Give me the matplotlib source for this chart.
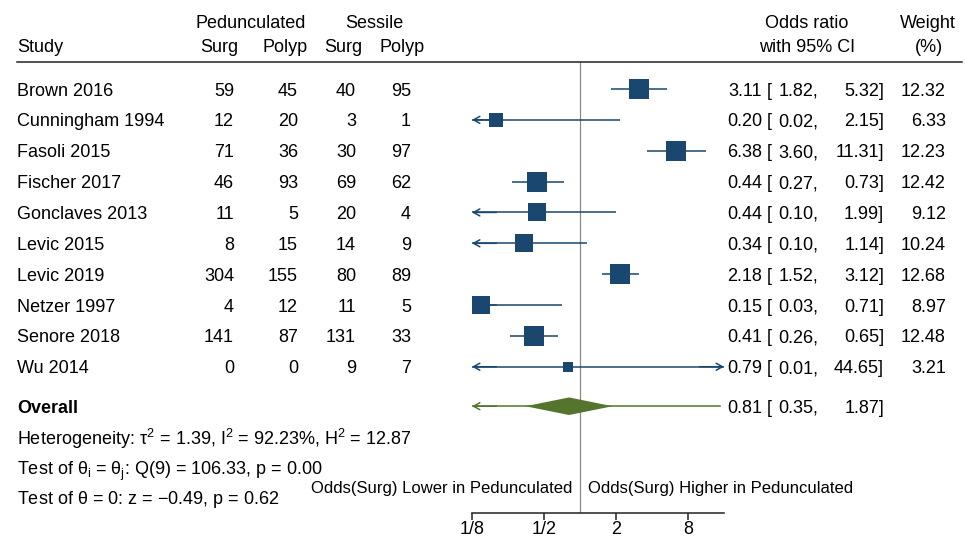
import matplotlib
matplotlib.use('Agg')
import matplotlib.pyplot as plt
import matplotlib.transforms as mtransforms
from matplotlib.lines import Line2D
import numpy as np

# === Data ===
studies = ['Brown 2016', 'Cunningham 1994', 'Fasoli 2015', 'Fischer 2017', 'Gonclaves 2013',
           'Levic 2015', 'Levic 2019', 'Netzer 1997', 'Senore 2018', 'Wu 2014']
ped_surg = [59, 12, 71, 46, 11, 8, 304, 4, 141, 0]
ped_polyp = [45, 20, 36, 93, 5, 15, 155, 12, 87, 0]
ses_surg = [40, 3, 30, 69, 20, 14, 80, 11, 131, 9]
ses_polyp = [95, 1, 97, 62, 4, 9, 89, 5, 33, 7]
odds = [3.11, 0.20, 6.38, 0.44, 0.44, 0.34, 2.18, 0.15, 0.41, 0.79]
ci_lo = [1.82, 0.02, 3.60, 0.27, 0.10, 0.10, 1.52, 0.03, 0.26, 0.01]
ci_hi = [5.32, 2.15, 11.31, 0.73, 1.99, 1.14, 3.12, 0.71, 0.65, 44.65]
weights = [12.32, 6.33, 12.23, 12.42, 9.12, 10.24, 12.68, 8.97, 12.48, 3.21]
overall = [0.81, 0.35, 1.87]
pred_int = [0.045, 14.8]
xticks = [1/8, 1/2, 2, 8]
xtick_labels = ['1/8', '1/2', '2', '8']

# === Style ===
plt.rcParams['font.family'] = ['Liberation Sans', 'DejaVu Sans']
plt.rcParams['mathtext.fontset'] = 'custom'
plt.rcParams['mathtext.rm'] = 'Liberation Sans'
plt.rcParams['mathtext.it'] = 'Liberation Sans'
plt.rcParams['mathtext.bf'] = 'Liberation Sans:bold'
NAVY = '#1a476f'
GREEN = '#55752f'
FS = 13

W, H = 966, 539
fig = plt.figure(figsize=(W / 100, H / 100), dpi=100)
ax = fig.add_axes([472 / W, 1 - 513 / H, (724 - 472) / W, (513 - 62) / H])
ax.set_xscale('log', base=2)
XMIN, XMAX = 1 / 8, 16
ax.set_xlim(XMIN, XMAX)
ax.set_ylim(13.74, -0.875)

rows = np.arange(len(studies))
y_overall = 10.28

# === Reference line at OR = 1 ===
ax.axvline(1, color='#8a8a8a', lw=0.9, zorder=1)

# === Study CIs and squares ===
ARROW = '->,head_length=0.45,head_width=0.25'

def ci_line(lo, hi, y, color):
    left = max(lo, XMIN)
    right = min(hi, XMAX)
    ax.plot([left, right], [y, y], color=color, lw=1.1, solid_capstyle='butt', zorder=2)
    arrow = dict(arrowstyle=ARROW, color=color, lw=1.1, shrinkA=0, shrinkB=0)
    if lo < XMIN:
        ax.annotate('', xy=(XMIN, y), xytext=(XMIN * 1.6, y), arrowprops=arrow, zorder=2)
    if hi > XMAX:
        ax.annotate('', xy=(XMAX, y), xytext=(XMAX / 1.6, y), arrowprops=arrow, zorder=2)

for i in rows:
    ci_line(ci_lo[i], ci_hi[i], i, NAVY)
    ms = 14.4 * np.sqrt(weights[i] / 12.32)
    ax.plot(odds[i], i, marker='s', ms=ms, color=NAVY, mec=NAVY, mew=0, zorder=3)

# === Overall: prediction interval + diamond ===
ax.plot([XMIN, pred_int[1]], [y_overall, y_overall], color=GREEN, lw=1.1, zorder=2)
ax.annotate('', xy=(XMIN, y_overall), xytext=(XMIN * 1.6, y_overall),
            arrowprops=dict(arrowstyle=ARROW, color=GREEN, lw=1.1, shrinkA=0, shrinkB=0),
            zorder=2)
hh = 0.285
ax.fill([overall[1], overall[0], overall[2], overall[0]],
        [y_overall, y_overall - hh, y_overall, y_overall + hh], color=GREEN, zorder=3, lw=0)

# === Axis ===
for s in ['top', 'right', 'left']:
    ax.spines[s].set_visible(False)
ax.spines['bottom'].set_linewidth(1.1)
ax.spines['bottom'].set_color('#222222')
ax.set_yticks([])
ax.set_xticks(xticks)
ax.set_xticklabels(xtick_labels, fontsize=FS)
ax.minorticks_off()
ax.tick_params(axis='x', length=5, width=1.1, color='#222222', pad=1)
ax.patch.set_visible(False)

# === Table text ===
tr = mtransforms.blended_transform_factory(fig.transFigure, ax.transData)

def put(xpx, y, s, ha='left', **kw):
    ax.text(xpx / W, y, s, transform=tr, ha=ha, va='center_baseline', fontsize=kw.pop('fontsize', FS),
            clip_on=False, **kw)

def head(xpx, ypx, s, ha='left'):
    fig.text(xpx / W, 1 - ypx / H, s, ha=ha, va='center_baseline', fontsize=FS)

head(251, 21, 'Pedunculated', 'center')
head(374, 21, 'Sessile', 'center')
head(17, 46, 'Study')
head(238, 46, 'Surg', 'right')
head(308, 46, 'Polyp', 'right')
head(362, 46, 'Surg', 'right')
head(425, 46, 'Polyp', 'right')
head(807, 21, 'Odds ratio', 'center')
head(807, 46, 'with 95% CI', 'center')
head(928, 21, 'Weight', 'center')
head(929, 46, '(%)', 'center')

fig.add_artist(Line2D([17 / W, 962 / W], [1 - 62 / H, 1 - 62 / H], color='#222222', lw=1.1))

def or_text(y, est, lo, hi):
    put(762, y, f'{est:.2f}', 'right')
    put(767, y, '[')
    put(818, y, f'{lo:.2f},', 'right')
    put(884, y, f'{hi:.2f}]', 'right')

for i in rows:
    put(17, i, studies[i])
    put(234, i, str(ped_surg[i]), 'right')
    put(298, i, str(ped_polyp[i]), 'right')
    put(356, i, str(ses_surg[i]), 'right')
    put(411, i, str(ses_polyp[i]), 'right')
    or_text(i, odds[i], ci_lo[i], ci_hi[i])
    put(946, i, f'{weights[i]:.2f}', 'right')

put(17, y_overall, 'Overall', fontweight='bold')
or_text(y_overall, *overall)

put(17, 11.25, r'Heterogeneity: $\tau^2$ = 1.39, I$^2$ = 92.23%, H$^2$ = 12.87')
put(17, 12.25, r'Test of $\theta_i$ = $\theta_j$: Q(9) = 106.33, p = 0.00')
put(17, 13.19, r'Test of $\theta$ = 0: z = $-$0.49, p = 0.62')

put(572, 12.9, 'Odds(Surg) Lower in Pedunculated', 'right', fontsize=12)
put(588, 12.9, 'Odds(Surg) Higher in Pedunculated', 'left', fontsize=12)

fig.savefig('out.png', dpi=100, facecolor='white')
